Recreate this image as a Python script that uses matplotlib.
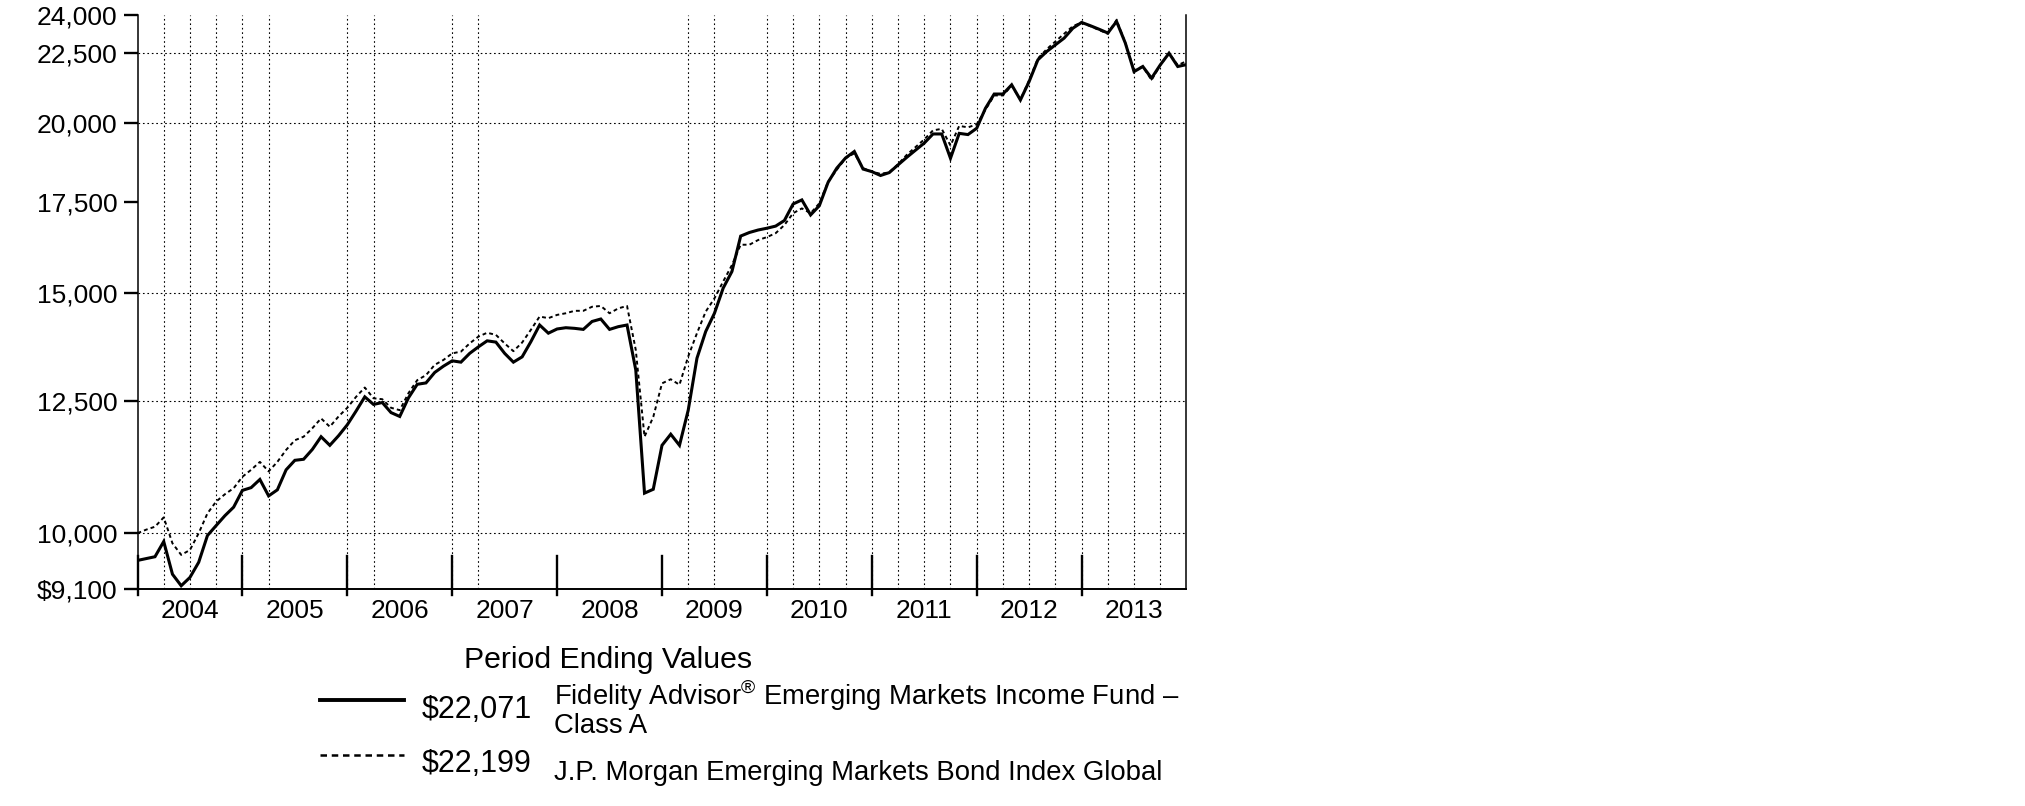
import numpy as np
import matplotlib
matplotlib.use('Agg')
import matplotlib.pyplot as plt
from matplotlib.lines import Line2D

plt.rcParams['font.family'] = ['Liberation Sans', 'DejaVu Sans']
plt.rcParams['mathtext.fontset'] = 'custom'
plt.rcParams['mathtext.rm'] = 'Liberation Sans'

# monthly values, Dec 2003 .. Dec 2013
fund = [9550, 9580, 9610, 9860, 9330, 9150, 9280, 9520, 9960, 10130, 10300, 10450, 10750,
        10800, 10950, 10650, 10760, 11130, 11310, 11330, 11520, 11770, 11600, 11790, 12010,
        12290, 12590, 12430, 12470, 12260, 12180, 12570, 12860, 12890, 13120, 13260, 13380,
        13350, 13550, 13700, 13840, 13810, 13550, 13350, 13470, 13820, 14215, 14020, 14120,
        14150, 14135, 14110, 14300, 14360, 14110, 14175, 14215, 13175, 10700, 10770, 11600,
        11820, 11600, 12310, 13440, 14060, 14500, 15130, 15560, 16520, 16620, 16690, 16740,
        16800, 16960, 17440, 17560, 17120, 17390, 18090, 18530, 18850, 19057, 18500, 18420,
        18300, 18390, 18630, 18870, 19100, 19330, 19630, 19630, 18840, 19650, 19610, 19820,
        20500, 21000, 21000, 21330, 20790, 21450, 22250, 22560, 22820, 23080, 23470, 23700,
        23570, 23430, 23280, 23740, 22890, 21810, 22000, 21570, 22060, 22500, 22000, 22071]
index = [10000, 10060, 10110, 10270, 9830, 9640, 9720, 10000, 10340, 10550, 10680, 10790, 11000,
         11130, 11280, 11100, 11280, 11510, 11700, 11770, 11940, 12140, 11970, 12180, 12360,
         12590, 12790, 12560, 12540, 12360, 12310, 12670, 12950, 13060, 13290, 13400, 13550,
         13590, 13780, 13940, 14030, 13980, 13780, 13600, 13800, 14100, 14420, 14380, 14460,
         14500, 14560, 14560, 14660, 14680, 14500, 14620, 14680, 13630, 11770, 12170, 12880,
         12970, 12850, 13480, 14020, 14540, 14870, 15300, 15730, 16280, 16280, 16410, 16490,
         16600, 16830, 17170, 17310, 17170, 17460, 18110, 18480, 18840, 19000, 18530, 18420,
         18350, 18400, 18650, 18950, 19200, 19450, 19750, 19800, 19250, 19900, 19850, 19950,
         20450, 20950, 20950, 21300, 20800, 21500, 22300, 22650, 22950, 23250, 23550, 23700,
         23550, 23400, 23250, 23800, 22900, 21850, 22000, 21500, 22050, 22500, 22050, 22199]
years = ['2004', '2005', '2006', '2007', '2008', '2009', '2010', '2011', '2012', '2013']
y_ticks = [9100, 10000, 12500, 15000, 17500, 20000, 22500, 24000]
y_labels = ['$9,100', '10,000', '12,500', '15,000', '17,500', '20,000', '22,500', '24,000']
y_grid = [10000, 12500, 15000, 20000, 22500]
# month offsets of the dotted vertical grid lines
x_grid = [3, 6, 9, 12, 15, 24, 27, 36, 39, 63, 66, 72, 75, 78, 81, 84, 87, 90, 93, 96,
          99, 102, 105, 108, 111, 114, 117]
fund_name = 'Fidelity Advisor$^{\\mathrm{®}}$ Emerging Markets Income Fund \u2013'
index_name = 'J.P. Morgan Emerging Markets Bond Index Global'

W, H = 2025, 806
fig = plt.figure(figsize=(W / 100, H / 100), dpi=100)


def fx(x):
    return x / W


def fy(y):
    return 1 - y / H


ax = fig.add_axes([fx(137.5), fy(589), (1186.5 - 137.5) / W, (589 - 15) / H])
months = np.arange(len(fund))

ax.plot(months, index, color='black', lw=1.4, ls=(0, (2, 1.6)), zorder=3)
ax.plot(months, fund, color='black', lw=2.2, zorder=4, solid_joinstyle='miter')

ax.set_yscale('log')
ax.set_ylim(9100, 24000)
ax.set_xlim(0, 120)
ax.yaxis.set_minor_locator(matplotlib.ticker.NullLocator())
ax.set_yticks(y_ticks)
ax.set_yticklabels(y_labels)
ax.tick_params(axis='y', direction='out', length=9.8, width=1.7, pad=4.5,
               labelsize=19, colors='black')

for v in y_grid:
    ax.axhline(v, color='black', lw=0.8, ls=(0, (1.5, 2.5)), zorder=1)
for m in x_grid:
    ax.axvline(m, color='black', lw=0.8, ls=(0, (1.5, 2.5)), zorder=1)

# year boundaries as solid marks, year names centred between them
for k in range(len(years)):
    ax.plot([12 * k, 12 * k], [-0.0105, 0.0575], transform=ax.get_xaxis_transform(),
            color='black', lw=1.7, clip_on=False, zorder=5)
ax.set_xticks([12 * k + 6 for k in range(len(years))])
ax.set_xticklabels(years)
ax.tick_params(axis='x', length=0, pad=7, labelsize=19)

ax.spines['top'].set_visible(False)
ax.spines['left'].set_linewidth(1.1)
ax.spines['right'].set_linewidth(1.1)
ax.spines['bottom'].set_linewidth(1.4)

# legend block
fig.text(fx(608), fy(667.5), 'Period Ending Values', ha='center', va='baseline', fontsize=21.8)
fig.add_artist(Line2D([fx(320), fx(404)], [fy(700), fy(700)], color='black', lw=2.8))
fig.add_artist(Line2D([fx(320), fx(404)], [fy(755), fy(755)], color='black', lw=1.8,
                      ls=(0, (2.6, 1.9))))
fig.text(fx(421.5), fy(717.5), '${:,}'.format(fund[-1]), ha='left', va='baseline', fontsize=22)
fig.text(fx(421.5), fy(771.5), '${:,}'.format(index[-1]), ha='left', va='baseline', fontsize=22)
fig.text(fx(554), fy(705), fund_name, ha='left', va='baseline', fontsize=19.8)
fig.text(fx(554), fy(733), 'Class A', ha='left', va='baseline', fontsize=19.8)
fig.text(fx(554), fy(780), index_name, ha='left', va='baseline', fontsize=19.8)

fig.savefig('out.png', dpi=100, facecolor='white')
